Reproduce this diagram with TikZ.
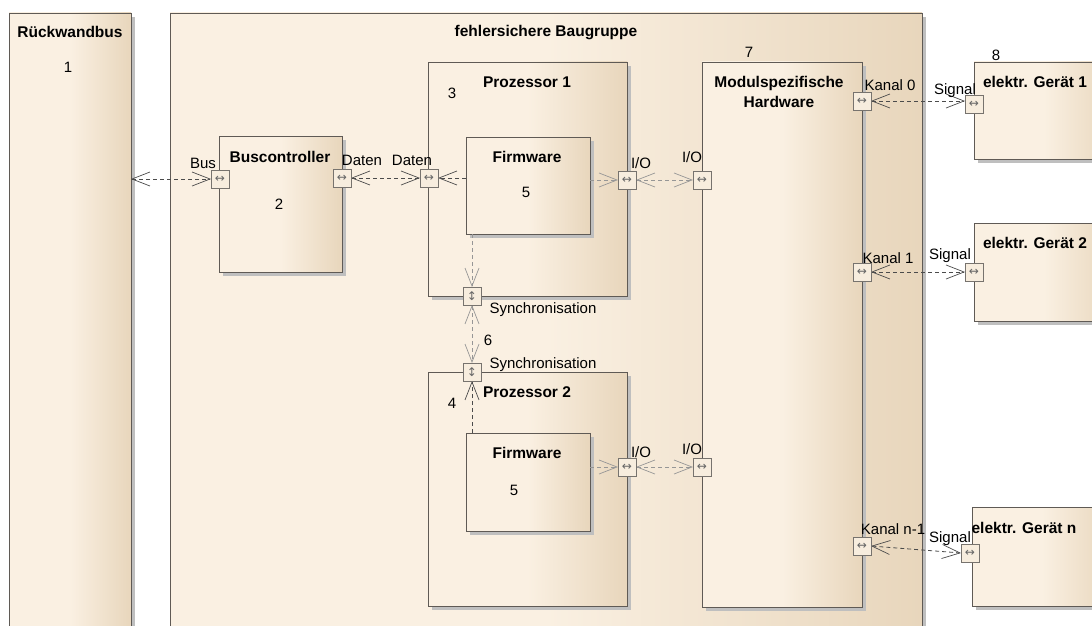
\documentclass[tikz,border=0pt]{standalone}
\usepackage{fontspec}
\setmainfont{Liberation Sans}
\newfontfamily\symfont{DejaVu Sans}
\usetikzlibrary{arrows.meta,shadows}
\definecolor{boxlight}{RGB}{250,240,226}
\definecolor{boxdark}{RGB}{232,214,188}
\definecolor{edge}{RGB}{95,90,85}
\definecolor{portfill}{RGB}{247,237,222}
\definecolor{dashdark}{RGB}{75,75,75}
\definecolor{dashlight}{RGB}{150,150,150}
\pgfdeclarehorizontalshading{boxshade}{100bp}{color(0bp)=(boxlight); color(50bp)=(boxlight); color(75bp)=(boxdark); color(100bp)=(boxdark)}
\begin{document}
\begin{tikzpicture}[x=1pt,y=-1pt,
  box/.style={draw=edge, line width=0.9pt, shading=boxshade,
    general shadow={fill=black!25, shadow xshift=4pt, shadow yshift=-4pt},
    anchor=north west, inner sep=0pt, outer sep=0pt},
  port/.style={draw=edge!85, line width=0.8pt, fill=portfill, minimum size=18pt,
    inner sep=0pt, outer sep=0pt, font=\symfont\fontsize{12}{12}\selectfont, text=black!60},
  ttl/.style={font=\bfseries\fontsize{15.5}{17}\selectfont, inner sep=0pt, anchor=base},
  lbl/.style={font=\fontsize{15}{17}\selectfont, inner sep=0pt, anchor=base},
  >={Straight Barb[length=18pt,width=14pt,line width=0.7pt]},
  conn/.style={dash pattern=on 4pt off 3pt, line width=0.8pt, draw=dashdark},
  connlight/.style={dash pattern=on 4pt off 3pt, line width=0.8pt, draw=dashlight},
]
\useasboundingbox (0,0) rectangle (1092,626);
\clip (0,0) rectangle (1092,626);
\fill[white] (0,0) rectangle (1092,626);

% outer blocks
\node[box, minimum width=122pt, minimum height=640pt] (rwb) at (9,13) {};
\node[box, minimum width=752pt, minimum height=640pt] (fsb) at (170,13) {};

% inner blocks
\node[box, minimum width=123pt, minimum height=136pt] (bc) at (219,136) {};
\node[box, minimum width=199pt, minimum height=234pt] (p1) at (428,62) {};
\node[box, minimum width=124pt, minimum height=97pt] (fw1) at (466,137) {};
\node[box, minimum width=199pt, minimum height=234pt] (p2) at (428,372) {};
\node[box, minimum width=124pt, minimum height=98pt] (fw2) at (466,433) {};
\node[box, minimum width=160pt, minimum height=545pt] (mh) at (702,62) {};
\node[box, minimum width=140pt, minimum height=97pt] (g1) at (974,62) {};
\node[box, minimum width=140pt, minimum height=98pt] (g2) at (974,223) {};
\node[box, minimum width=140pt, minimum height=99pt] (gn) at (972,507) {};

% port positions
\coordinate (cBus) at (220,179);
\coordinate (cBcD) at (342,178);
\coordinate (cP1D) at (429,178);
\coordinate (cP1IO) at (627,180);
\coordinate (cM1) at (702,180);
\coordinate (cS1) at (472,296);
\coordinate (cS2) at (472,372);
\coordinate (cP2IO) at (627,467);
\coordinate (cM2) at (702,467);
\coordinate (cK0) at (862,101);
\coordinate (cSig1) at (974,104);
\coordinate (cK1) at (862,272);
\coordinate (cSig2) at (974,272);
\coordinate (cKn) at (862,546);
\coordinate (cSign) at (970,553);

% ports (outline only first, so connectors can end on their borders)
\foreach \p in {Bus,BcD,P1D,P1IO,M1,S1,S2,P2IO,M2,K0,Sig1,K1,Sig2,Kn,Sign}
  \node[port, draw=none, fill=none] (p\p) at (c\p) {};

% connectors
\draw[conn,<->] (rwb.east |- pBus) -- (pBus.west);
\draw[conn,<->] (pBcD.east) -- (pP1D.west);
\draw[conn,->] (fw1.west |- pP1D) -- (pP1D.east);
\draw[connlight,->] (fw1.east |- pP1IO) -- (pP1IO.west);
\draw[connlight,<->] (pP1IO.east) -- (pM1.west);
\draw[connlight,->] (pS1 |- fw1.south) -- (pS1.north);
\draw[connlight,<->] (pS1.south) -- (pS2.north);
\draw[conn,->] (pS2 |- fw2.north) -- (pS2.south);
\draw[connlight,->] (fw2.east |- pP2IO) -- (pP2IO.west);
\draw[connlight,<->] (pP2IO.east) -- (pM2.west);
\draw[conn,<->] (pK0.east) -- (pSig1.west |- pK0);
\draw[conn,<->] (pK1.east) -- (pSig2.west);
\draw[conn,<->] (pKn.east) -- (pSign.west);

% port squares with direction symbols
\foreach \p in {Bus,BcD,P1D,P1IO,M1,P2IO,M2,K0,Sig1,K1,Sig2,Kn,Sign}
  \node[port] (q\p) at (c\p) {↔};
\foreach \p in {S1,S2}
  \node[port] (q\p) at (c\p) {↕};

% texts
\node[ttl] (tRwb) at (70,38) {Rückwandbus};
\node[lbl] (nRwb) at (68,73) {1};
\node[ttl] (tFsb) at (546,37) {fehlersichere Baugruppe};
\node[ttl] (tBc) at (280,162) {Buscontroller};
\node[lbl] (nBc) at (279,209) {2};
\node[lbl] (lBus) at (203,168) {Bus};
\node[lbl] (lBcD) at (362,165) {Daten};
\node[lbl] (lP1D) at (412,165) {Daten};
\node[ttl] (tP1) at (527,87) {Prozessor 1};
\node[lbl] (nP1) at (452,98) {3};
\node[ttl] (tFw1) at (527,162) {Firmware};
\node[lbl] (nFw1) at (526,197) {5};
\node[lbl] (lP1IO) at (641,168) {I/O};
\node[lbl] (lM1) at (692,162) {I/O};
\node[lbl] (lS1) at (543,313) {Synchronisation};
\node[lbl] (nSync) at (488,345) {6};
\node[lbl] (lS2) at (543,368) {Synchronisation};
\node[ttl] (tP2) at (527,397) {Prozessor 2};
\node[lbl] (nP2) at (452,408) {4};
\node[ttl] (tFw2) at (527,458) {Firmware};
\node[lbl] (nFw2) at (514,495) {5};
\node[lbl] (lP2IO) at (641,457) {I/O};
\node[lbl] (lM2) at (692,454) {I/O};
\node[lbl] (nMh) at (749,58) {7};
\node[ttl] (tMh1) at (779,88) {Modulspezifische};
\node[ttl] (tMh2) at (779,107) {Hardware};
\node[lbl] (lK0) at (890,90) {Kanal 0};
\node[lbl] (lSig1) at (955,94) {Signal};
\node[lbl] (nG) at (996,60) {8};
\node[ttl] (tG1) at (1035,88) {elektr. Gerät 1};
\node[lbl] (lK1) at (888,263) {Kanal 1};
\node[lbl] (lSig2) at (950,259) {Signal};
\node[ttl] (tG2) at (1035,248) {elektr. Gerät 2};
\node[lbl] (lKn) at (893,534) {Kanal n-1};
\node[lbl] (lSign) at (950,542) {Signal};
\node[ttl] (tGn) at (1024,533) {elektr. Gerät n};
\end{tikzpicture}
\end{document}
